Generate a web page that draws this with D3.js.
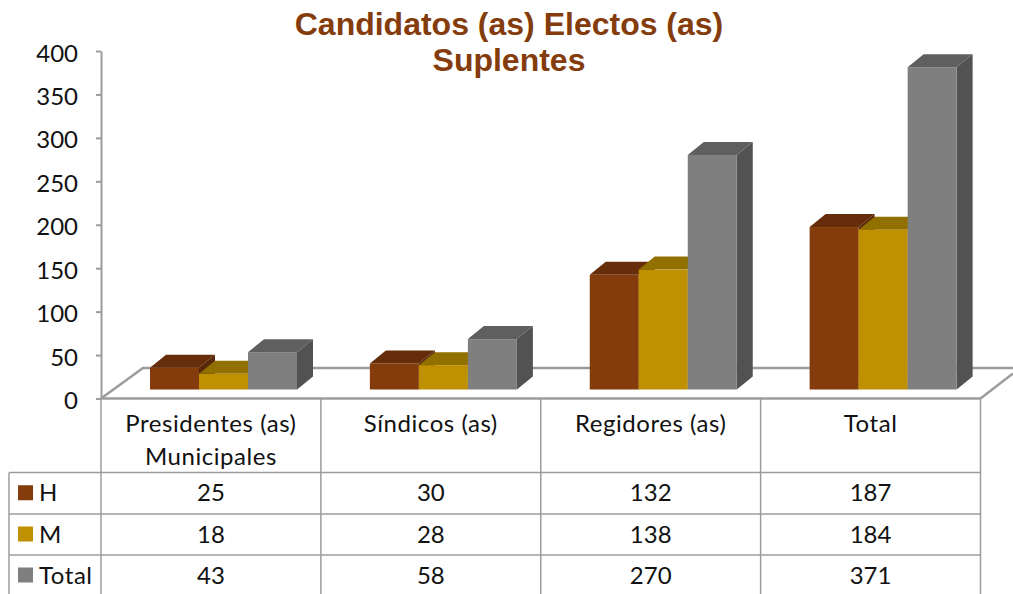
<!DOCTYPE html>
<html><head><meta charset="utf-8">
<script src="https://cdn.jsdelivr.net/npm/d3@7"></script>
<style>html,body{margin:0;padding:0;background:#fff;overflow:hidden}svg{display:block}text{font-family:Lato,"Open Sans",sans-serif;fill:#111}.t{letter-spacing:.55px}</style>
</head><body><svg id="c" width="1013" height="594"></svg>
<script>
const titleLines = ["Candidatos (as) Electos (as)", "Suplentes"];
const categories = ["Presidentes (as)|Municipales", "Síndicos (as)", "Regidores (as)", "Total"];
const seriesNames = ["H", "M", "Total"];
const valuesH = [25, 30, 132, 187];
const valuesM = [18, 28, 138, 184];
const valuesTotal = [43, 58, 270, 371];
const yTicks = [0, 50, 100, 150, 200, 250, 300, 350, 400];
const allValues = [valuesH, valuesM, valuesTotal];
const frontColors = ["#843c0c", "#bf9000", "#7f7f7f"];
const topColors = ["#652d09", "#917000", "#5f5f5f"];
const sideColors = ["#572708", "#7a5e00", "#525252"];

const svg = d3.select("#c");
const gridCol = "#9c9c9c";
const left = 101, right = 980.5, y0 = 398.5, yTop = 51;
const dx = 16, dy = 13, floorShiftY = 9;
const depthX = 42, depthY = 30.5;

const y = d3.scaleLinear().domain([0, 400]).range([y0, yTop]);
const x = d3.scaleBand().domain(categories).range([left, right]);
const sx = d3.scaleBand().domain(seriesNames).range([49, 196]);

// floor
const floor = d3.line();
svg.append("path").attr("fill", "none").attr("stroke", gridCol).attr("stroke-width", 2.5)
  .attr("d", floor([[left, y0], [left + depthX, y0 - depthY], [1013, y0 - depthY]]));
svg.append("path").attr("fill", "none").attr("stroke", gridCol).attr("stroke-width", 2.5)
  .attr("d", floor([[right, y0], [1013, y0 - 25]]));

// y axis
const axis = svg.append("g").attr("transform", `translate(${left},0)`)
  .call(d3.axisLeft(y).tickValues(yTicks).tickSize(5).tickPadding(18).tickSizeOuter(0));
axis.selectAll("path,line").attr("stroke", gridCol).attr("stroke-width", 2);
axis.selectAll("text").attr("font-size", 24).attr("dy", "0.42em").style("font-family", "Lato").attr("fill", "#111");

// bars
categories.forEach((c, ci) => {
  seriesNames.forEach((s, si) => {
    const v = allValues[si][ci];
    const xl = x(c) + sx(s), w = sx.bandwidth();
    const yb = y(0) - floorShiftY, h = y(0) - y(v), yt = yb - h;
    const g = svg.append("g");
    g.append("path").attr("fill", sideColors[si])
      .attr("d", floor([[xl + w, yt], [xl + w + dx, yt - dy], [xl + w + dx, yb - dy], [xl + w, yb]]) + "Z");
    g.append("path").attr("fill", topColors[si])
      .attr("d", floor([[xl, yt], [xl + dx, yt - dy], [xl + w + dx, yt - dy], [xl + w, yt]]) + "Z");
    g.append("rect").attr("x", xl).attr("y", yt).attr("width", w).attr("height", h).attr("fill", frontColors[si]);
  });
});

// axis baseline on top
svg.append("line").attr("x1", left).attr("x2", right).attr("y1", y0).attr("y2", y0)
  .attr("stroke", gridCol).attr("stroke-width", 2.5);

// table
const rowY = d3.scaleLinear().domain([0, 1, 2, 3]).range([472.5, 514, 555, 596]);
const tableLine = (x1, y1, x2, y2) => svg.append("line").attr("x1", x1).attr("y1", y1).attr("x2", x2).attr("y2", y2)
  .attr("stroke", gridCol).attr("stroke-width", 1.5);
[0, 1, 2].forEach(r => tableLine(9, rowY(r), right, rowY(r)));
tableLine(9, rowY(0), 9, 594);
[left, ...categories.map(c => x(c) + x.bandwidth())].forEach(v => tableLine(v, y0, v, 594));

categories.forEach(c => {
  c.split("|").forEach((t, i) => {
    svg.append("text").attr("class", "t").attr("x", x(c) + x.bandwidth() / 2).attr("y", 432 + i * 33)
      .attr("text-anchor", "middle").attr("font-size", 24).text(t);
  });
});
seriesNames.forEach((s, si) => {
  const cy = (rowY(si) + rowY(si + 1)) / 2;
  svg.append("rect").attr("x", 18).attr("y", cy - 8).attr("width", 15).attr("height", 15).attr("fill", frontColors[si]);
  svg.append("text").attr("class", "t").attr("x", 39).attr("y", cy + 8).attr("font-size", 24).text(s);
  categories.forEach((c, ci) => {
    svg.append("text").attr("x", x(c) + x.bandwidth() / 2).attr("y", cy + 8)
      .attr("text-anchor", "middle").attr("font-size", 24).text(allValues[si][ci]);
  });
});

// title
titleLines.forEach((t, i) => {
  svg.append("text").attr("x", 509).attr("y", 35 + i * 35.5).attr("text-anchor", "middle")
    .style("font-family", "'Liberation Sans'").style("font-weight", "bold").style("fill", "#843c0c")
    .attr("font-size", 32).text(t);
});
</script></body></html>
